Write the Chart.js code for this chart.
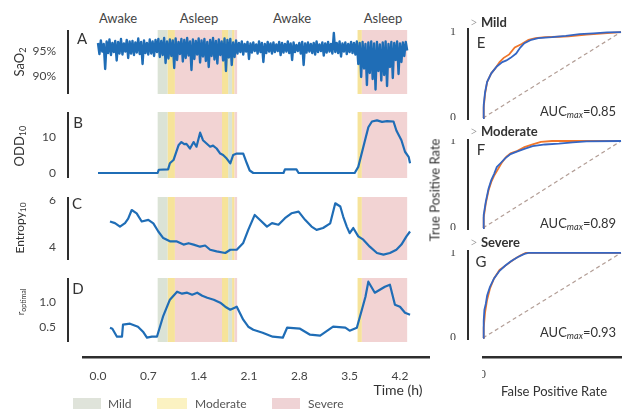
<!DOCTYPE html>
<html>
<head>
<meta charset="utf-8">
<script src="https://cdn.jsdelivr.net/npm/chart.js@4.4.1/dist/chart.umd.min.js"></script>
<style>
  body { margin: 0; background: #fff; }
  #fig { position: relative; width: 622px; height: 409px; overflow: hidden; background: #fff; font-family: 'Lato', sans-serif; color: #333; }
  #fig canvas { position: absolute; }
  .t { position: absolute; white-space: nowrap; transform: translate(-50%, -50%); line-height: 1; }
  .rot { transform: translate(-50%, -50%) rotate(-90deg); }
  .l { position: absolute; white-space: nowrap; transform: translate(0, -50%); line-height: 1; }
  .sw { position: absolute; top: 398px; height: 11px; }
  sub { font-size: 70%; vertical-align: -0.25em; }
  .gt { color: #888; font-weight: 300; }
</style>
</head>
<body>
<div id="fig">
  <canvas id="panelA" width="430" height="64" style="left:0;top:30px"></canvas>
  <canvas id="panelB" width="430" height="66" style="left:0;top:112px"></canvas>
  <canvas id="panelC" width="430" height="63" style="left:0;top:197px"></canvas>
  <canvas id="panelD" width="430" height="64" style="left:0;top:278px"></canvas>
  <canvas id="timeAxis" width="348" height="40" style="left:82px;top:347px"></canvas>

  <canvas id="rocE" width="230" height="92" style="left:430px;top:28px"></canvas>
  <canvas id="rocF" width="230" height="91" style="left:430px;top:139px"></canvas>
  <canvas id="rocG" width="230" height="90" style="left:430px;top:250px"></canvas>
  <canvas id="rocAxis" width="200" height="40" style="left:482px;top:347px"></canvas>

  <div class="t" style="left:118px;top:18px;font-size:13px;color:#444">Awake</div>
  <div class="t" style="left:199px;top:18px;font-size:13px;color:#444">Asleep</div>
  <div class="t" style="left:292px;top:18px;font-size:13px;color:#444">Awake</div>
  <div class="t" style="left:383px;top:18px;font-size:13px;color:#444">Asleep</div>

  <div class="t" style="left:82px;top:38px;font-size:15px">A</div>
  <div class="t" style="left:78px;top:122px;font-size:15px">B</div>
  <div class="t" style="left:77px;top:203px;font-size:15px">C</div>
  <div class="t" style="left:78px;top:288px;font-size:15px">D</div>

  <div class="t rot" style="left:20px;top:62px;font-size:13px">SaO<sub>2</sub></div>
  <div class="t rot" style="left:20px;top:146px;font-size:13px">ODD<sub>10</sub></div>
  <div class="t rot" style="left:21px;top:228px;font-size:12px">Entropy<sub>10</sub></div>
  <div class="t rot" style="left:21px;top:302px;font-size:10px">r<sub>optimal</sub></div>

  <div class="t" style="left:398px;top:390px;font-size:14px">Time (h)</div>

  <div class="sw" style="left:73px;width:28px;background:#dfe3da"></div>
  <div class="l" style="left:108px;top:404px;font-size:12px;color:#555">Mild</div>
  <div class="sw" style="left:157px;width:30px;background:#fbf2c2"></div>
  <div class="l" style="left:195px;top:404px;font-size:12px;color:#555">Moderate</div>
  <div class="sw" style="left:272px;width:28px;background:#efd3d5"></div>
  <div class="l" style="left:308px;top:404px;font-size:12px;color:#555">Severe</div>

  <div class="t rot" style="left:435px;top:190px;font-size:13px">True Positive Rate</div>
  <div class="t" style="left:554px;top:391px;font-size:13px">False Positive Rate</div>

  <div class="l" style="left:470px;top:22px;font-size:13px"><span class="gt">&gt;</span> <b>Mild</b></div>
  <div class="l" style="left:470px;top:131px;font-size:13px"><span class="gt">&gt;</span> <b>Moderate</b></div>
  <div class="l" style="left:470px;top:242px;font-size:13px"><span class="gt">&gt;</span> <b>Severe</b></div>

  <div class="t" style="left:481px;top:42px;font-size:15px">E</div>
  <div class="t" style="left:481px;top:149px;font-size:15px">F</div>
  <div class="t" style="left:481px;top:261px;font-size:15px">G</div>

  <div class="l" style="left:540px;top:112px;font-size:13px">AUC<sub><i>max</i></sub>=0.85</div>
  <div class="l" style="left:540px;top:224px;font-size:13px">AUC<sub><i>max</i></sub>=0.89</div>
  <div class="l" style="left:540px;top:333px;font-size:13px">AUC<sub><i>max</i></sub>=0.93</div>
</div>
<script>
// time axis (hours)
const timeTicks = [0, 0.7, 1.4, 2.1, 2.8, 3.5, 4.2]

// A: SaO2 (%), one sample every 0.02 h from t = 0
const saoStep = 0.02
const saoValues = [
  96.6, 94.4, 97.1, 94.9, 96.4, 91.4, 96.9, 94.6, 97.3, 94.2, 96.6, 94.8, 97.0, 93.1, 96.8, 94.5,
  97.4, 94.3, 96.5, 94.9, 97.2, 93.6, 96.9, 94.5, 97.0, 94.2, 96.7, 94.7, 97.5, 94.4, 96.8, 92.4,
  97.1, 94.6, 96.6, 94.3, 97.3, 94.5, 96.9, 94.0, 97.2, 94.8,
  97.4, 93.8, 97.0, 94.2, 97.6, 92.6, 96.9, 93.5, 97.3, 94.0, 97.1, 91.6, 97.5, 93.2, 96.8, 94.4,
  97.4, 92.9, 97.2, 93.6, 97.6, 94.1, 96.9, 91.2, 97.3, 93.4, 97.0, 94.3, 97.5, 92.7, 97.1, 93.9,
  97.4, 93.0, 96.8, 91.8, 97.2, 94.0, 97.6, 93.3, 97.0, 92.5, 97.3, 94.2, 96.9, 93.1, 97.5, 91.0,
  97.2, 93.7, 97.4, 92.2, 96.7, 93.8, 97.1, 94.5,
  96.6, 94.8, 96.9, 94.3, 96.4, 94.9, 96.8, 93.4, 96.5, 94.7, 96.7, 95.0, 96.3, 94.5, 96.9, 94.8,
  96.6, 92.8, 96.4, 94.6, 96.8, 94.9, 96.5, 94.5, 96.7, 94.8, 96.3, 95.0, 96.8, 94.2, 96.6, 94.7,
  96.4, 94.9, 96.9, 94.6, 96.5, 93.2, 96.7, 94.8, 96.2, 95.0, 96.6, 94.5, 96.8, 92.2, 96.5, 94.7,
  96.7, 94.9, 96.4, 94.6, 96.6, 94.3, 96.9, 94.8, 96.3, 95.0, 96.7, 94.1, 96.5, 94.7, 96.8, 94.9,
  96.4, 94.5, 98.6, 94.8, 96.6, 94.6, 96.9, 93.9, 96.5, 94.9, 96.7, 94.4, 96.4, 94.8, 96.8, 94.6,
  96.6, 94.3,
  96.9, 92.4, 96.6, 89.8, 96.8, 91.5, 96.4, 88.2, 96.7, 90.6, 96.9, 89.4, 96.5, 87.3, 96.8, 91.0,
  96.3, 89.1, 96.7, 90.2, 96.9, 88.0, 96.4, 91.8, 96.8, 89.6, 96.6, 93.2, 96.9, 90.4, 96.5, 92.8,
  96.7, 94.0, 96.8, 95.1
]
const saoTicks = [90, 95]

// B: ODD10
const oddTime = [0, 0.83, 0.845, 0.975, 1.0, 1.05, 1.12, 1.16, 1.2, 1.23, 1.28, 1.33, 1.37, 1.42, 1.46,
  1.51, 1.56, 1.6, 1.65, 1.7, 1.74, 1.79, 1.84, 1.88, 1.93, 2.02, 2.07, 2.11, 2.16, 2.58, 2.6, 2.76, 2.79,
  3.57, 3.62, 3.69, 3.76, 3.81, 3.88, 3.95, 4.02, 4.11, 4.15, 4.22, 4.27, 4.32, 4.34]
const oddValue = [0, 0, 0.9, 1.0, 2.7, 3.6, 7.7, 8.6, 8.0, 8.1, 6.8, 8.6, 7.3, 11.2, 9.1,
  8.2, 7.3, 7.6, 6.8, 5.4, 5.0, 4.0, 2.7, 5.0, 5.4, 5.4, 2.7, 0.7, 0, 0, 1.0, 1.0, 0,
  0, 1.7, 7.2, 12.7, 14.3, 14.6, 14.2, 14.4, 14.3, 11.8, 9.1, 5.9, 4.5, 2.7]
const oddTicks = [0, 10]

// C: Entropy10
const entTime = [0.167, 0.236, 0.306, 0.376, 0.42, 0.469, 0.538, 0.608, 0.7, 0.77, 0.839, 0.908, 1.0, 1.09,
  1.19, 1.26, 1.33, 1.42, 1.49, 1.56, 1.65, 1.77, 1.84, 1.93, 2.02, 2.09, 2.18, 2.25, 2.35, 2.42, 2.51,
  2.6, 2.69, 2.79, 2.88, 2.97, 3.04, 3.13, 3.23, 3.3, 3.37, 3.41, 3.46, 3.5, 3.55, 3.62, 3.69, 3.78,
  3.88, 3.97, 4.06, 4.15, 4.22, 4.29, 4.34]
const entValue = [5.08, 5.01, 4.86, 5.01, 5.2, 5.57, 5.43, 5.08, 5.15, 5.0, 4.65, 4.37, 4.23, 4.23,
  4.09, 4.15, 4.09, 4.0, 4.05, 3.87, 3.8, 3.73, 3.87, 3.87, 4.16, 4.72, 5.36, 5.15, 4.86, 5.01, 4.94,
  5.22, 5.43, 5.5, 5.15, 4.86, 4.72, 4.8, 5.0, 5.86, 5.72, 5.29, 4.86, 4.58, 4.8, 4.44, 4.3, 4.0,
  3.73, 3.66, 3.73, 3.87, 4.09, 4.44, 4.65]
const entTicks = [4, 6]

// D: r optimal
const roptTime = [0.167, 0.2, 0.264, 0.334, 0.348, 0.445, 0.556, 0.626, 0.681, 0.75, 0.82, 0.904, 1.0, 1.1,
  1.17, 1.24, 1.31, 1.38, 1.45, 1.52, 1.61, 1.7, 1.77, 1.84, 1.93, 2.02, 2.09, 2.16, 2.29, 2.43, 2.57,
  2.63, 2.81, 2.95, 3.09, 3.27, 3.44, 3.5, 3.6, 3.67, 3.72, 3.76, 3.85, 3.92, 3.99, 4.06, 4.13, 4.2,
  4.27, 4.34]
const roptValue = [0.48, 0.46, 0.3, 0.3, 0.54, 0.56, 0.5, 0.4, 0.28, 0.3, 0.3, 0.7, 1.04, 1.2,
  1.16, 1.18, 1.14, 1.18, 1.12, 1.08, 1.04, 0.98, 0.9, 0.84, 0.9, 0.64, 0.5, 0.44, 0.38, 0.3, 0.28,
  0.48, 0.46, 0.34, 0.32, 0.5, 0.48, 0.42, 0.48, 0.84, 1.1, 1.4, 1.18, 1.24, 1.3, 1.34, 0.94, 0.9,
  0.78, 0.74]
const roptTicks = [0.5, 1.0]

// hypoxia shading, [start h, end h]
const mildSpans = [[0.83, 0.97], [1.81, 1.865]]
const moderateSpans = [[0.97, 1.07], [1.725, 1.81], [1.865, 1.9], [3.61, 3.67]]
const severeSpans = [[1.07, 1.725], [1.9, 1.935], [3.67, 4.3]]

// ROC curves (false positive rate, true positive rate)
const mildBlueFpr = [0, 0.005, 0.015, 0.03, 0.06, 0.1, 0.14, 0.17, 0.2, 0.24, 0.27, 0.3, 0.35, 0.4, 0.5, 0.6, 0.7, 0.8, 0.9, 1]
const mildBlueTpr = [0, 0.15, 0.3, 0.42, 0.52, 0.6, 0.65, 0.67, 0.7, 0.75, 0.82, 0.87, 0.91, 0.93, 0.94, 0.955, 0.975, 0.985, 0.995, 1]
const mildOrangeFpr = [0, 0.005, 0.015, 0.03, 0.06, 0.09, 0.12, 0.15, 0.19, 0.23, 0.28, 0.33, 0.38, 0.45, 0.55, 0.62, 0.75, 1]
const mildOrangeTpr = [0, 0.12, 0.28, 0.42, 0.52, 0.58, 0.65, 0.7, 0.74, 0.82, 0.86, 0.91, 0.93, 0.94, 0.945, 0.95, 0.97, 1]
const modBlueFpr = [0, 0.005, 0.02, 0.04, 0.06, 0.08, 0.1, 0.13, 0.16, 0.2, 0.25, 0.3, 0.36, 0.45, 0.55, 0.65, 0.75, 1]
const modBlueTpr = [0, 0.15, 0.3, 0.45, 0.55, 0.62, 0.7, 0.75, 0.8, 0.85, 0.88, 0.91, 0.94, 0.96, 0.97, 0.985, 0.995, 1]
const modOrangeFpr = [0, 0.005, 0.02, 0.04, 0.06, 0.08, 0.11, 0.14, 0.17, 0.2, 0.24, 0.3, 0.36, 0.42, 0.5, 1]
const modOrangeTpr = [0, 0.12, 0.28, 0.43, 0.53, 0.6, 0.68, 0.76, 0.82, 0.86, 0.88, 0.93, 0.96, 0.99, 1, 1]
const sevBlueFpr = [0, 0.005, 0.01, 0.02, 0.03, 0.05, 0.08, 0.12, 0.16, 0.2, 0.25, 0.3, 0.33, 1]
const sevBlueTpr = [0, 0.2, 0.33, 0.4, 0.5, 0.6, 0.7, 0.79, 0.85, 0.9, 0.95, 0.99, 1, 1]
const sevOrangeFpr = [0, 0.005, 0.015, 0.03, 0.05, 0.08, 0.12, 0.17, 0.22, 0.27, 0.31, 1]
const sevOrangeTpr = [0, 0.12, 0.3, 0.45, 0.58, 0.7, 0.8, 0.86, 0.92, 0.97, 1, 1]
const chanceFpr = [0, 1]
const chanceTpr = [0, 1]
const rocTicks = [0, 1]
const rocXTicks = [0]

const BLUE = '#1f6db6'
const ROC_BLUE = '#3566c4'
const ROC_ORANGE = '#f0762a'
const SHADE = { mild: '#dbe3d6', moderate: '#f6e39a', severe: '#f2d3d3' }
const SPINE = '#2e2e2e'

Chart.defaults.font.family = "'Lato', sans-serif"
Chart.defaults.color = '#444'

const pts = (xs, ys) => xs.map((x, i) => ({ x, y: ys[i] }))

const shadePlugin = {
  id: 'shade',
  beforeDatasetsDraw(chart) {
    const { ctx, chartArea, scales } = chart
    ctx.save()
    ;[[mildSpans, SHADE.mild], [moderateSpans, SHADE.moderate], [severeSpans, SHADE.severe]].forEach(([spans, color]) => {
      ctx.fillStyle = color
      spans.forEach(([a, b]) => {
        const x1 = scales.x.getPixelForValue(a)
        const x2 = scales.x.getPixelForValue(b)
        ctx.fillRect(x1, chartArea.top, x2 - x1, chartArea.bottom - chartArea.top)
      })
    })
    ctx.restore()
  },
}

function yAxis(min, max, ticks, width, fmt, font) {
  return {
    min,
    max,
    afterBuildTicks: (s) => { s.ticks = ticks.map((v) => ({ value: v })) },
    afterFit: (s) => { s.width = width; s.paddingTop = 0; s.paddingBottom = 0 },
    grid: { display: false, drawTicks: false },
    border: { display: true, color: SPINE, width: 2 },
    ticks: { padding: 12, color: '#444', font, callback: fmt },
  }
}

const baseOptions = {
  animation: false,
  responsive: false,
  events: [],
  layout: { padding: 0 },
  plugins: { legend: { display: false }, tooltip: { enabled: false } },
  elements: { point: { radius: 0 }, line: { tension: 0 } },
}

function timePanel(id, data, yMin, yMax, ticks, fmt, lineWidth) {
  new Chart(document.getElementById(id), {
    type: 'line',
    data: { datasets: [{ data, borderColor: BLUE, borderWidth: lineWidth, borderJoinStyle: 'round' }] },
    options: {
      ...baseOptions,
      scales: {
        x: { type: 'linear', min: -0.417, max: 4.6175, display: false },
        y: yAxis(yMin, yMax, ticks, 68, fmt, { size: 12 }),
      },
    },
    plugins: [shadePlugin],
  })
}

function rocPanel(id, yMin, yMax, blue, orange) {
  new Chart(document.getElementById(id), {
    type: 'line',
    data: {
      datasets: [
        { data: blue, borderColor: ROC_BLUE, borderWidth: 1.8 },
        { data: orange, borderColor: ROC_ORANGE, borderWidth: 1.8 },
        { data: pts(chanceFpr, chanceTpr), borderColor: 'rgba(165,140,130,0.85)', borderWidth: 1.2, borderDash: [4, 3] },
      ],
    },
    options: {
      ...baseOptions,
      scales: {
        x: { type: 'linear', min: -0.1087, max: 1.2826, display: false },
        y: yAxis(yMin, yMax, rocTicks, 38, (v) => String(v), { size: 12, family: "'Liberation Serif', serif" }),
      },
    },
  })
}

function axisStrip(id, min, max, ticks, fmt, font, pad) {
  new Chart(document.getElementById(id), {
    type: 'line',
    data: { datasets: [] },
    options: {
      ...baseOptions,
      scales: {
        x: {
          type: 'linear',
          min,
          max,
          afterBuildTicks: (s) => { s.ticks = ticks.map((v) => ({ value: v })) },
          afterFit: (s) => { s.height = 30; s.paddingLeft = 0; s.paddingRight = 0 },
          grid: { display: false, drawTicks: false },
          border: { display: true, color: SPINE, width: 2.5 },
          ticks: { padding: pad, color: '#444', font, callback: fmt, maxRotation: 0 },
        },
        y: { display: false, min: 0, max: 1 },
      },
    },
  })
}

// main
;(() => {
  const saoData = saoValues.map((v, i) => ({ x: i * saoStep, y: v }))
  timePanel('panelA', saoData, 86.4, 99.2, saoTicks, (v) => v + '%', 2.4)
  timePanel('panelB', pts(oddTime, oddValue), -1.39, 16.94, oddTicks, (v) => String(v), 2.2)
  timePanel('panelC', pts(entTime, entValue), 3.43, 6.128, entTicks, (v) => String(v), 2.2)
  timePanel('panelD', pts(roptTime, roptValue), 0.194, 1.474, roptTicks, (v) => v.toFixed(1), 2.2)
  axisStrip('timeAxis', -0.2225, 4.6175, timeTicks, (v) => v.toFixed(1), { size: 12 }, 12)

  rocPanel('rocE', -0.023, 1.047, pts(mildBlueFpr, mildBlueTpr), pts(mildOrangeFpr, mildOrangeTpr))
  rocPanel('rocF', -0.023, 1.023, pts(modBlueFpr, modBlueTpr), pts(modOrangeFpr, modOrangeTpr))
  rocPanel('rocG', -0.024, 1.035, pts(sevBlueFpr, sevBlueTpr), pts(sevOrangeFpr, sevOrangeTpr))
  axisStrip('rocAxis', -0.00725, 1.442, rocXTicks, (v) => String(v), { size: 12, family: "'Liberation Serif', serif" }, 11)
})()
</script>
</body>
</html>
